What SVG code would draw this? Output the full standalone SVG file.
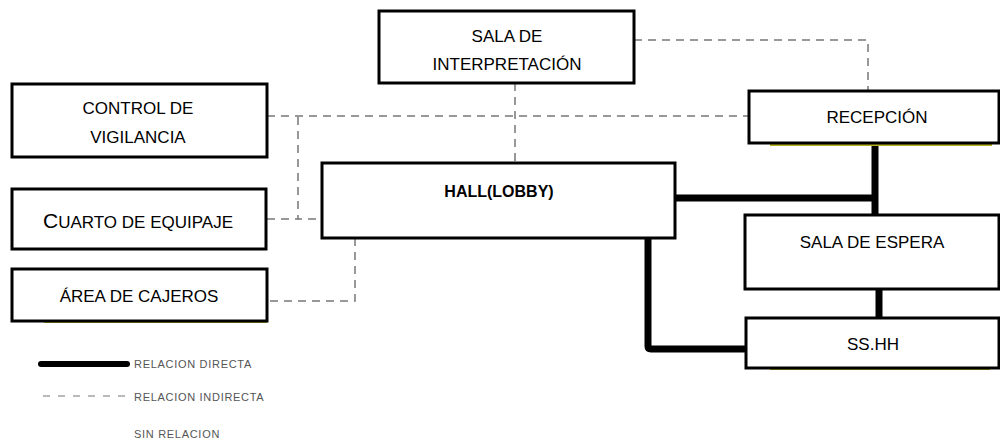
<svg xmlns="http://www.w3.org/2000/svg" width="1000" height="441" viewBox="0 0 1000 441">
<style>
.box{fill:#fff;stroke:#000;stroke-width:3}
.t{font-family:"Liberation Sans",Arial,sans-serif;font-size:17px;fill:#000;text-anchor:middle}
.b{font-weight:bold;font-size:16px}
.dash{fill:none;stroke:#777;stroke-width:1.5;stroke-dasharray:8,6}
.thick{fill:none;stroke:#000;stroke-width:7}
.shadow{stroke:#b5b020;stroke-width:2}
.leg{font-family:"Liberation Sans",sans-serif;font-size:11px;letter-spacing:0.7px;fill:#555}
</style>
<g id="connectors">
<path class="dash" d="M634,40 H868 V91"/>
<path class="dash" d="M515,83 V163"/>
<path class="dash" d="M267,116 H749"/>
<path class="dash" d="M298,117 V219 H322"/>
<path class="dash" d="M267,219 H298"/>
<path class="dash" d="M355,238 V301 H267"/>
<path class="thick" d="M875,143 V215"/>
<path class="thick" d="M675,198 H875"/>
<path class="thick" d="M879,289 V318"/>
<path class="thick" d="M648,237 V346 Q648,349 651,349 H746" stroke-linejoin="round"/>
</g>
<g id="sala-interpretacion">
<rect class="box" x="379" y="11" width="255" height="72"/>
<text class="t" x="507" y="42">SALA DE</text>
<text class="t" x="507" y="70">INTERPRETACIÓN</text>
</g>
<g id="control-vigilancia">
<rect class="box" x="12" y="84" width="255" height="73"/>
<text class="t" x="138" y="114">CONTROL DE</text>
<text class="t" x="138" y="143">VIGILANCIA</text>
</g>
<g id="cuarto-equipaje">
<rect class="box" x="12" y="189" width="254" height="60"/>
<text class="t" x="138" y="228"><tspan font-size="21">C</tspan><tspan font-size="17">UARTO DE EQUIPAJE</tspan></text>
</g>
<g id="area-cajeros">
<line class="shadow" x1="44" y1="322" x2="267" y2="322"/>
<rect class="box" x="12" y="269" width="255" height="52"/>
<text class="t" x="139" y="302">ÁREA DE CAJEROS</text>
</g>
<g id="hall-lobby">
<rect class="box" x="322" y="163" width="353" height="75"/>
<text class="t b" x="499" y="197">HALL(LOBBY)</text>
</g>
<g id="recepcion">
<line class="shadow" x1="770" y1="145" x2="992" y2="145"/>
<rect class="box" x="749" y="91" width="250" height="52"/>
<text class="t" x="877" y="123">RECEPCIÓN</text>
</g>
<g id="sala-espera">
<rect class="box" x="745" y="215" width="254" height="74"/>
<text class="t" x="872" y="248">SALA DE ESPERA</text>
</g>
<g id="sshh">
<line class="shadow" x1="770" y1="369" x2="990" y2="369"/>
<rect class="box" x="746" y="318" width="253" height="50"/>
<text class="t" x="873" y="350">SS.HH</text>
</g>
<g id="legend">
<line x1="41" y1="364" x2="127" y2="364" stroke="#000" stroke-width="6" stroke-linecap="round"/>
<text class="leg" x="134" y="368">RELACION DIRECTA</text>
<line x1="43" y1="396" x2="127" y2="396" stroke="#777" stroke-width="1.2" stroke-dasharray="7,8"/>
<text class="leg" x="134" y="401">RELACION INDIRECTA</text>
<text class="leg" x="134" y="438">SIN RELACION</text>
</g>
</svg>
